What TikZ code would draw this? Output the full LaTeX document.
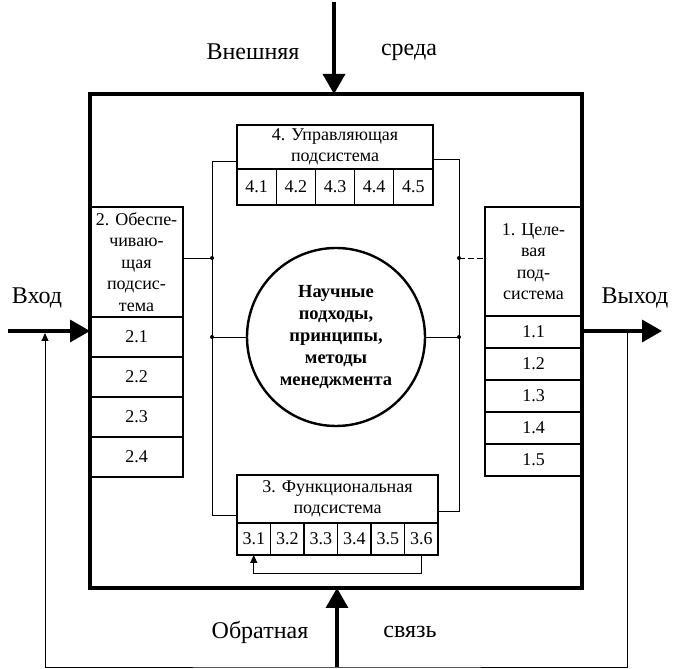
\documentclass[tikz,border=0pt]{standalone}
\usepackage{fontspec}
\setmainfont{Liberation Serif}
\usetikzlibrary{arrows.meta}
\usetikzlibrary{positioning}
\tikzset {
  % frame of the whole system
  frame/.style = {
    draw = black,
    line width = 3.5pt,
    outer sep = 0,
    minimum width = 492pt,
    minimum height = 494pt
  },
  % frame of a subsystem or of one of its elements
  sub node/.style = {
    draw = black,
    line width = 1.1pt,
    outer sep = 0,
    inner sep = 0,
    align = center,
    font = \fontsize{18}{21.5}\selectfont
  },
  lcell/.style = {
    sub node,
    minimum width = 93pt,
    minimum height = 40pt
  },
  rcell/.style = {
    sub node,
    minimum width = 97pt,
    minimum height = 32pt
  },
  tcell/.style = {
    sub node,
    minimum width = 39.2pt,
    minimum height = 36pt
  },
  bcell/.style = {
    sub node,
    minimum width = 33.5pt,
    minimum height = 32pt
  },
  % the core in the middle
  core/.style = {
    draw = black,
    circle,
    line width = 2.4pt,
    minimum size = 178pt,
    align = center,
    font = \fontsize{18.5}{22}\selectfont\bfseries
  },
  label/.style = {
    font = \fontsize{24}{28}\selectfont
  },
  % links between the subsystems
  bus/.style = {
    draw = black,
    line width = 0.9pt
  },
  % heavy flow arrow
  flow/.style = {
    draw = black,
    line width = 3.5pt,
    -{Triangle[length = 20pt, width = 22pt]}
  },
  % thin return arrow
  back/.style = {
    draw = black,
    line width = 0.9pt,
    -{Triangle[length = 8pt, width = 7pt]}
  }
}

\begin{document}
\begin{tikzpicture}[x = 1pt, y = 1pt]
    \useasboundingbox (0,0) rectangle (673,669);
    \node[frame] (frame) at (336,328) {};

    \node[lcell, minimum height = 110pt, anchor = north west] (h2) at (90,462) {2. Обеспе-\\чиваю-\\щая\\подсис-\\тема};
    \node[lcell] (c21) [below=0pt of h2] {2.1};
    \node[lcell] (c22) [below=0pt of c21] {2.2};
    \node[lcell] (c23) [below=0pt of c22] {2.3};
    \node[lcell] (c24) [below=0pt of c23] {2.4};

    \node[rcell, minimum height = 109pt, anchor = north east] (h1) at (582,462) {1. Целе-\\вая\\под-\\система};
    \node[rcell] (c11) [below=0pt of h1] {1.1};
    \node[rcell] (c12) [below=0pt of c11] {1.2};
    \node[rcell] (c13) [below=0pt of c12] {1.3};
    \node[rcell] (c14) [below=0pt of c13] {1.4};
    \node[rcell] (c15) [below=0pt of c14] {1.5};

    \node[sub node, minimum width = 196pt, minimum height = 44pt, anchor = north west] (h4) at (237,544) {4. Управляющая\\подсистема};
    \node[tcell, anchor = north west] (c41) at (h4.south west) {4.1};
    \node[tcell] (c42) [right=0pt of c41] {4.2};
    \node[tcell] (c43) [right=0pt of c42] {4.3};
    \node[tcell] (c44) [right=0pt of c43] {4.4};
    \node[tcell] (c45) [right=0pt of c44] {4.5};

    \node[sub node, minimum width = 201pt, minimum height = 48pt, anchor = north west] (h3) at (237,194) {3. Функциональная\\подсистема};
    \node[bcell, anchor = north west] (c31) at (h3.south west) {3.1};
    \node[bcell] (c32) [right=0pt of c31] {3.2};
    \node[bcell] (c33) [right=0pt of c32] {3.3};
    \node[bcell] (c34) [right=0pt of c33] {3.4};
    \node[bcell] (c35) [right=0pt of c34] {3.5};
    \node[bcell] (c36) [right=0pt of c35] {3.6};

    \node[core] (core) at (336,332) {Научные\\подходы,\\принципы,\\методы\\менеджмента};

    \coordinate (bus-lt) at (212,508);
    \coordinate (bus-lb) at (212,154);
    \coordinate (bus-rt) at (459,510);
    \coordinate (bus-rb) at (459,158);
    \coordinate (dot-l) at (212,411);
    \coordinate (dot-r) at (459,411);

    \draw[bus] (h4.west |- bus-lt) -- (bus-lt) -- (bus-lb) -- (h3.west |- bus-lb);
    \draw[bus] (h4.east |- bus-rt) -- (bus-rt) -- (bus-rb) -- (h3.east |- bus-rb);
    \draw[bus] (h2.east |- dot-l) -- (dot-l);
    \draw[bus, dash pattern = on 6pt off 3pt] (dot-r) -- (h1.west |- dot-r);
    \draw[bus] (core.west) -- (core.west -| bus-lt);
    \draw[bus] (core.east) -- (core.east -| bus-rt);
    \fill (dot-l) circle (2pt);
    \fill (dot-r) circle (2pt);
    \fill (core.west -| bus-lt) circle (2pt);
    \fill (core.east -| bus-rt) circle (2pt);

    \draw[back] (c36.south) -- ++(0,-18) -| (c31.south);

    \coordinate (env) at (334,667);
    \coordinate (in) at (8,338);
    \coordinate (out) at (662,338);
    \coordinate (fb) at (337,2);
    \coordinate (fb-r) at (627,338);
    \coordinate (fb-l) at (45,336);

    \draw[flow] (env) -- (env |- frame.north);
    \draw[flow] (in) -- (in -| frame.west);
    \draw[flow] (frame.east |- out) -- (out);
    \draw[flow] (fb) -- (fb |- frame.south);
    \draw[back] (fb-r) |- (fb) -| (fb-l);

    \node[label] (env-l) at (253,617) {Внешняя};
    \node[label] (env-r) at (409,617) {среда};
    \node[label] (fb-lt) at (260,37) {Обратная};
    \node[label] (fb-rt) at (410,37) {связь};
    \node[label] (in-t) at (37,371) {Вход};
    \node[label] (out-t) at (635,371) {Выход};
\end{tikzpicture}
\end{document}
